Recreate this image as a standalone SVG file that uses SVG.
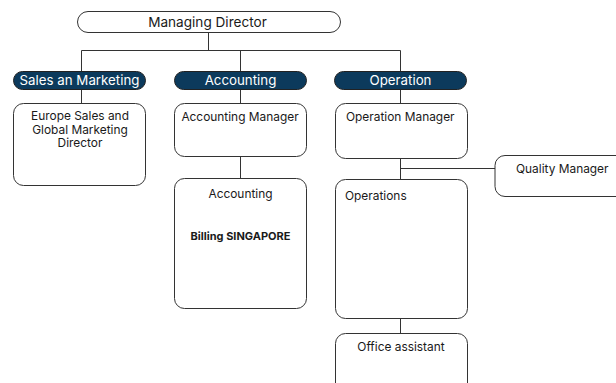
<svg xmlns="http://www.w3.org/2000/svg" width="616" height="383" viewBox="0 0 616 383">
<style>
.box{fill:#fff;stroke:#333;stroke-width:1}
.pill{fill:#0c3a5c;stroke:#222;stroke-width:1}
.ln{stroke:#333;stroke-width:1;fill:none}
text{font-family:Inter,"Liberation Sans",sans-serif;fill:#1a1a1a}
.t{font-size:11.9px}
.p{font-size:13.3px;fill:#fff}
.b{font-weight:bold;font-size:11px}
</style>
<rect width="616" height="383" fill="#fff"/>
<g id="connectors">
<path class="ln" d="M208.5 32V50.5M81.5 50.5H400.5M81.5 50.5V103M240.5 50.5V103M400.5 50.5V103M240.5 156V178M400.5 158V179M400.5 168.5H495M400.5 318V333"/>
</g>
<g id="md"><rect class="box" x="77.5" y="11.5" width="263" height="21" rx="10.5"/><text x="207.5" y="26.5" text-anchor="middle" font-size="13.6">Managing Director</text></g>
<g id="sales"><rect class="pill" x="13.5" y="71.5" width="132" height="18" rx="9"/><text class="p" x="79.5" y="85" text-anchor="middle">Sales an Marketing</text></g>
<g id="accounting"><rect class="pill" x="174.5" y="71.5" width="132" height="18" rx="9"/><text class="p" x="240.5" y="85" text-anchor="middle">Accounting</text></g>
<g id="operation"><rect class="pill" x="334.5" y="71.5" width="132" height="18" rx="9"/><text class="p" x="400.5" y="85" text-anchor="middle">Operation</text></g>
<g id="europe"><rect class="box" x="13.5" y="103.5" width="132" height="82" rx="10"/><text class="t" text-anchor="middle"><tspan x="80" y="120">Europe Sales and</tspan><tspan x="80" y="133.5">Global Marketing</tspan><tspan x="80" y="147">Director</tspan></text></g>
<g id="acc-mgr"><rect class="box" x="174.5" y="103.5" width="132" height="53" rx="10"/><text class="t" x="240" y="121" text-anchor="middle">Accounting Manager</text></g>
<g id="acc"><rect class="box" x="174.5" y="178.5" width="132" height="130" rx="10"/><text class="t" x="240.5" y="198" text-anchor="middle">Accounting</text><text class="b" x="240.5" y="240" text-anchor="middle">Billing SINGAPORE</text></g>
<g id="op-mgr"><rect class="box" x="335.5" y="103.5" width="132" height="55" rx="10"/><text class="t" x="346" y="121">Operation Manager</text></g>
<g id="quality"><rect class="box" x="495" y="155.5" width="140" height="41" rx="10"/><text class="t" x="516" y="173">Quality Manager</text></g>
<g id="ops"><rect class="box" x="335.5" y="179.5" width="132" height="139" rx="10"/><text class="t" x="345" y="200">Operations</text></g>
<g id="office"><rect class="box" x="335.5" y="333.5" width="132" height="62" rx="10"/><text class="t" x="401" y="351" text-anchor="middle">Office assistant</text></g>
</svg>
